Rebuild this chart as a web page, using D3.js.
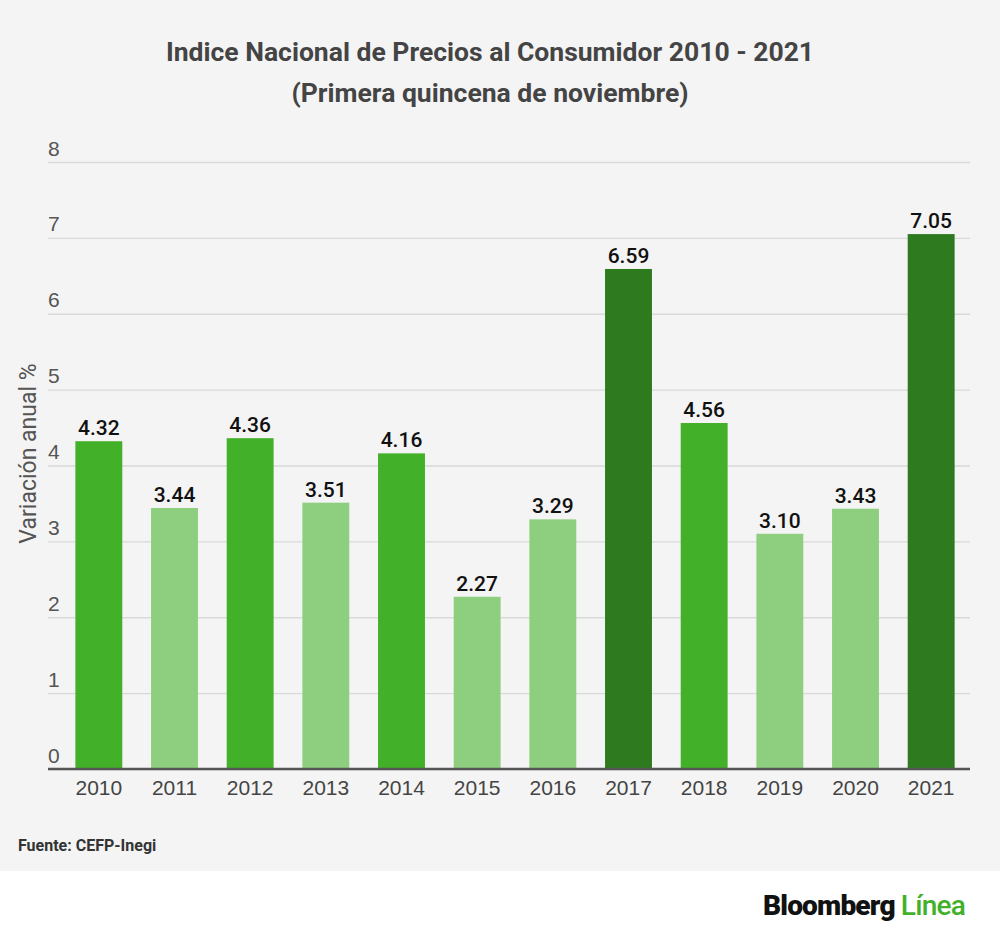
<!DOCTYPE html>
<html>
<head>
<meta charset="utf-8">
<script src="https://cdn.jsdelivr.net/npm/d3@7"></script>
<style>
  body { margin: 0; background: #fff; }
  svg { display: block; font-family: Roboto, "Noto Sans", sans-serif; }
</style>
</head>
<body>
<div id="chart"></div>
<script>
const years = ["2010", "2011", "2012", "2013", "2014", "2015", "2016", "2017", "2018", "2019", "2020", "2021"];
const values = [4.32, 3.44, 4.36, 3.51, 4.16, 2.27, 3.29, 6.59, 4.56, 3.10, 3.43, 7.05];
// tono de cada barra: 0 claro, 1 medio, 2 oscuro
const shade = [1, 0, 1, 0, 1, 0, 0, 2, 1, 0, 0, 2];
const yTicks = [0, 1, 2, 3, 4, 5, 6, 7, 8];

const width = 1000;
const height = 938;
const margin = { top: 162, right: 30, bottom: 169, left: 48 };
const colors = ["#8ecf7f", "#43b02a", "#2d7a1f"];

const svg = d3
  .select("#chart")
  .append("svg")
  .attr("width", width)
  .attr("height", height)
  .attr("viewBox", [0, 0, width, height]);

// fondo gris del grafico, blanco abajo para el logo
svg.append("rect").attr("width", width).attr("height", 871).attr("fill", "#f4f4f4");

const x = d3
  .scaleBand()
  .domain(years)
  .range([61, 969])
  .paddingInner(0.38)
  .paddingOuter(0.19);

const y = d3.scaleLinear([0, 8], [height - margin.bottom, margin.top]);

// texto escalado en horizontal
function stretched(g, tx, ty, sx) {
  return g.append("g").attr("transform", `translate(${tx},${ty}) scale(${sx},1)`);
}

// titulo
stretched(svg, 490, 61, 1.02)
  .append("text")
  .attr("text-anchor", "middle")
  .attr("font-size", 26)
  .attr("font-weight", 700)
  .attr("fill", "#444")
  .text("Indice Nacional de Precios al Consumidor 2010 - 2021");
stretched(svg, 490, 102, 1.02)
  .append("text")
  .attr("text-anchor", "middle")
  .attr("font-size", 26)
  .attr("font-weight", 700)
  .attr("fill", "#444")
  .text("(Primera quincena de noviembre)");

// eje y: lineas de cuadricula y etiquetas encima
svg
  .append("g")
  .attr("transform", `translate(${margin.left},0)`)
  .call(
    d3.axisRight(y)
      .tickValues(yTicks)
      .tickSize(width - margin.left - margin.right)
      .tickFormat(d3.format("d"))
  )
  .call((g) => g.select(".domain").remove())
  .call((g) => g.selectAll(".tick line").attr("stroke", "#d9d9d9").attr("stroke-width", 1.3))
  .call((g) =>
    g.selectAll(".tick text")
      .attr("x", 0)
      .attr("dy", -7)
      .attr("text-anchor", "start")
      .attr("font-size", 21)
      .attr("fill", "#555")
  );

svg
  .append("text")
  .attr("transform", `translate(36,${y(4) - 12}) rotate(-90)`)
  .attr("text-anchor", "middle")
  .attr("font-size", 23)
  .attr("fill", "#555")
  .text("Variación anual %");

// barras
svg
  .append("g")
  .selectAll("rect")
  .data(values)
  .join("rect")
  .attr("x", (d, i) => x(years[i]))
  .attr("y", (d) => y(d))
  .attr("width", x.bandwidth())
  .attr("height", (d) => y(0) - y(d))
  .attr("fill", (d, i) => colors[shade[i]]);

// valores sobre las barras
svg
  .append("g")
  .selectAll("text")
  .data(values)
  .join("text")
  .attr("x", (d, i) => x(years[i]) + x.bandwidth() / 2)
  .attr("y", (d) => y(d) - 6)
  .attr("text-anchor", "middle")
  .attr("font-size", 21)
  .attr("font-weight", 500)
  .attr("fill", "#111")
  .text((d) => d.toFixed(2));

// eje x
svg
  .append("g")
  .attr("transform", `translate(0,${y(0)})`)
  .call(d3.axisBottom(x).tickSize(0).tickPadding(11))
  .call((g) => g.select(".domain").remove())
  .call((g) =>
    g.selectAll(".tick text")
      .attr("font-size", 21)
      .attr("fill", "#444")
  );

svg
  .append("line")
  .attr("x1", margin.left)
  .attr("x2", width - margin.right)
  .attr("y1", y(0))
  .attr("y2", y(0))
  .attr("stroke", "#555")
  .attr("stroke-width", 2.5);

// fuente
stretched(svg, 18, 851, 1.0)
  .append("text")
  .attr("font-size", 16)
  .attr("font-weight", 700)
  .attr("fill", "#333")
  .text("Fuente: CEFP-Inegi");

// logo
const logo = stretched(svg, 965, 915, 1.04)
  .append("text")
  .attr("text-anchor", "end")
  .attr("font-size", 27)
  .attr("font-weight", 900)
  .attr("letter-spacing", -0.8);
logo.append("tspan").attr("fill", "#111").text("Bloomberg ");
logo.append("tspan").attr("fill", "#43b02a").attr("font-weight", 500).text("Línea");
</script>
</body>
</html>
